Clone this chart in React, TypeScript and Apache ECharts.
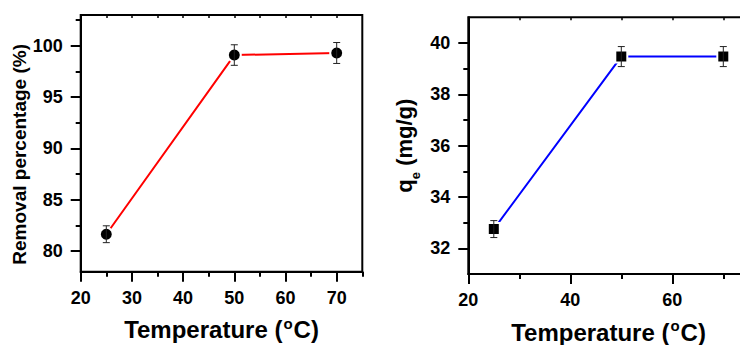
import React, { useEffect, useRef } from "react";
import * as echarts from "echarts";

// ---- data ----
const temperatures = [25, 50, 70];
const removalPct = [81.65, 99.1, 99.3];
const removalErr = [0.82, 1.0, 1.02];
const qeValues = [32.75, 39.47, 39.47];
const qeErr = [0.33, 0.39, 0.39];

// ---- ticks ----
const leftXMajor = [20, 30, 40, 50, 60, 70];
const leftXMinor = [25, 35, 45, 55, 65, 75];
const leftXTop = [25, 30, 35, 40, 45, 50, 55, 60, 65, 70];
const leftYMajor = [80, 85, 90, 95, 100];
const leftYMinor = [82.5, 87.5, 92.5, 97.5, 102.5];
const rightXMajor = [20, 40, 60];
const rightXMinor = [30, 50, 70];
const rightXTop = [30, 40, 50, 60, 70];
const rightYMajor = [32, 34, 36, 38, 40];
const rightYMinor = [33, 35, 37, 39];

const FONT = "'Liberation Sans', Arial, sans-serif";

function errorSeries(xIdx: number, yIdx: number, vals: number[], errs: number[]) {
  return {
    type: "custom",
    xAxisIndex: xIdx,
    yAxisIndex: yIdx,
    z: 5,
    encode: { x: 0, y: [1, 2] },
    data: temperatures.map((t, i) => [t, vals[i] - errs[i], vals[i] + errs[i]]),
    renderItem: (params: any, api: any) => {
      const x = api.value(0);
      const top = api.coord([x, api.value(2)]);
      const bot = api.coord([x, api.value(1)]);
      const cap = 3.5;
      const style = { stroke: "#222", lineWidth: 1 };
      return {
        type: "group",
        children: [
          { type: "line", shape: { x1: top[0], y1: top[1], x2: bot[0], y2: bot[1] }, style },
          { type: "line", shape: { x1: top[0] - cap, y1: top[1], x2: top[0] + cap, y2: top[1] }, style },
          { type: "line", shape: { x1: bot[0] - cap, y1: bot[1], x2: bot[0] + cap, y2: bot[1] }, style },
        ],
      };
    },
  };
}

const tickLabel = { fontFamily: FONT, fontSize: 18, fontWeight: "bold", color: "#000" };
const axisLineStyle = { show: true, lineStyle: { color: "#000", width: 2 } };

function mainX(grid: number, min: number, max: number, major: number[]) {
  return {
    type: "value",
    gridIndex: grid,
    position: "bottom",
    min,
    max,
    axisLine: axisLineStyle,
    axisTick: { show: true, customValues: major, length: 10, lineStyle: { color: "#000", width: 2 } },
    axisLabel: { ...tickLabel, customValues: major, margin: 17 },
    splitLine: { show: false },
    name: "{a|Temperature (}{s|o}{a|C)}",
    nameLocation: "middle",
    nameGap: 44,
    nameTextStyle: {
      rich: {
        a: { fontFamily: FONT, fontSize: 24, fontWeight: "bold", color: "#000", lineHeight: 28 },
        s: { fontFamily: FONT, fontSize: 15, fontWeight: "bold", color: "#000", lineHeight: 12, verticalAlign: "top", padding: [0, 1, 0, 1] },
      },
    },
  };
}
function minorX(grid: number, min: number, max: number, minor: number[]) {
  return {
    type: "value",
    gridIndex: grid,
    position: "bottom",
    min,
    max,
    axisLine: { show: false },
    axisTick: { show: true, customValues: minor, length: 5, lineStyle: { color: "#000", width: 2 } },
    axisLabel: { show: false },
    splitLine: { show: false },
  };
}
function topX(grid: number, min: number, max: number, vals: number[]) {
  return {
    type: "value",
    gridIndex: grid,
    position: "top",
    min,
    max,
    axisLine: { show: false },
    axisTick: { show: true, inside: true, customValues: vals, length: 3, lineStyle: { color: "#000", width: 1.5 } },
    axisLabel: { show: false },
    splitLine: { show: false },
  };
}
function mainY(grid: number, min: number, max: number, major: number[], extra: any) {
  return {
    type: "value",
    gridIndex: grid,
    position: "left",
    min,
    max,
    axisLine: axisLineStyle,
    axisTick: { show: true, customValues: major, length: 10, lineStyle: { color: "#000", width: 2 } },
    axisLabel: { ...tickLabel, customValues: major, margin: 18 },
    splitLine: { show: false },
    nameLocation: "middle",
    nameRotate: 90,
    ...extra,
  };
}
function minorY(grid: number, min: number, max: number, minor: number[]) {
  return {
    type: "value",
    gridIndex: grid,
    position: "left",
    min,
    max,
    axisLine: { show: false },
    axisTick: { show: true, customValues: minor, length: 5, lineStyle: { color: "#000", width: 2 } },
    axisLabel: { show: false },
    splitLine: { show: false },
  };
}

export default function App() {
  const ref = useRef<HTMLDivElement>(null);
  useEffect(() => {
    if (!ref.current) return;
    const chart = echarts.init(ref.current, undefined, { renderer: "svg" });
    const option: any = {
      animation: false,
      backgroundColor: "#fff",
      grid: [
        { left: 80.7, top: 15, width: 281.6, height: 256.7, show: true, borderColor: "#000", borderWidth: 2, outerBoundsMode: "none" },
        { left: 468.3, top: 17.3, width: 280.5, height: 256.7, show: true, borderColor: "#000", borderWidth: 2, outerBoundsMode: "none" },
      ],
      xAxis: [
        mainX(0, 20, 75, leftXMajor),
        minorX(0, 20, 75, leftXMinor),
        topX(0, 20, 75, leftXTop),
        mainX(1, 20, 75, rightXMajor),
        minorX(1, 20, 75, rightXMinor),
        topX(1, 20, 75, rightXTop),
      ],
      yAxis: [
        mainY(0, 78, 103, leftYMajor, {
          name: "Removal percentage (%)",
          nameGap: 46,
          nameTextStyle: { fontFamily: FONT, fontSize: 19, fontWeight: "bold", color: "#000", padding: [0, 22, 0, 0] },
        }),
        minorY(0, 78, 103, leftYMinor),
        mainY(1, 31, 41, rightYMajor, {
          name: "{q|q}{e|e}{q| (mg/g)}",
          nameGap: 51,
          nameTextStyle: {
            rich: {
              q: { fontFamily: FONT, fontSize: 22, fontWeight: "bold", color: "#000", lineHeight: 26 },
              e: { fontFamily: FONT, fontSize: 13, fontWeight: "bold", color: "#000", lineHeight: 26, verticalAlign: "bottom", padding: [0, 0, -5, 0] },
            },
          },
        }),
        minorY(1, 31, 41, rightYMinor),
      ],
      series: [
        {
          type: "line",
          xAxisIndex: 0,
          yAxisIndex: 0,
          z: 3,
          data: temperatures.map((t, i) => [t, removalPct[i]]),
          symbol: "circle",
          symbolSize: 13,
          itemStyle: { color: "#000", borderColor: "#fff", borderWidth: 2 },
          lineStyle: { color: "#ff0000", width: 2 },
        },
        errorSeries(0, 0, removalPct, removalErr),
        {
          type: "line",
          xAxisIndex: 3,
          yAxisIndex: 2,
          z: 3,
          data: temperatures.map((t, i) => [t, qeValues[i]]),
          symbol: "rect",
          symbolSize: 12,
          itemStyle: { color: "#000", borderColor: "#fff", borderWidth: 2 },
          lineStyle: { color: "#0000ff", width: 2 },
        },
        errorSeries(3, 2, qeValues, qeErr),
      ],
    };
    chart.setOption(option);
    return () => chart.dispose();
  }, []);
  return (
    <div
      ref={ref}
      style={{ position: "fixed", left: 0, top: 0, width: 740, height: 345, background: "#fff" }}
    />
  );
}
